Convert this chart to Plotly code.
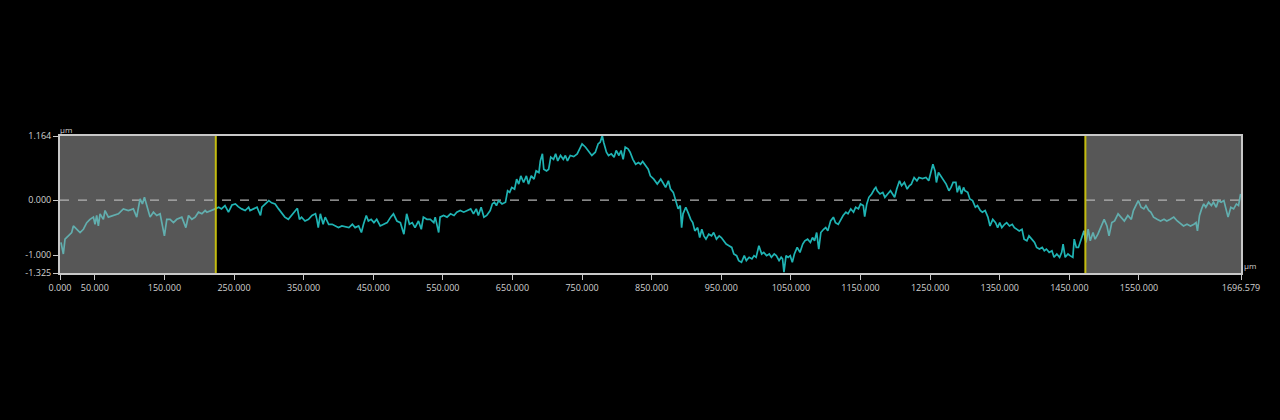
import plotly.graph_objects as go
import numpy as np

# Profile data (x in µm, height in µm)
x_um = [1.4, 4.8, 7.2, 12, 16.8, 19.2, 24, 28.8, 33.6, 38.4, 43.1, 48, 50.3, 52.7, 55.1, 57.5, 62.3, 64.7, 69.5, 76.7,
        83.9, 91, 98.2, 105.4, 110.2, 115, 118.4, 121.3, 124.6, 129.4, 134.2, 139, 143.8, 147.2, 150, 153.4, 158.2, 163,
        167.8, 175, 180.8, 184.6, 189.4, 194.2, 198.9, 203.8, 208.5,
        211, 218, 223, 228, 232, 237, 242, 247, 252, 256, 261, 266, 271, 273, 278, 283, 288, 290, 295, 300, 304, 309,
        314, 319, 323, 328, 333, 338, 341, 344, 347, 352, 357, 362, 367, 369, 371, 374, 378, 381, 386, 391, 395, 400,
        405, 410,
        415, 420, 424, 429, 433, 436, 440, 443, 447, 451, 455, 460, 465, 470, 475, 479, 484, 489, 494, 498, 502, 506,
        510, 515, 519, 522, 527, 532, 537, 539, 544, 546, 551, 556, 561, 566, 570, 575, 580, 585, 590, 594, 598, 601,
        605, 609, 613, 618, 621, 624, 627, 630, 635, 640, 643, 646, 649, 653, 656, 659, 662, 666, 670, 673, 677, 681,
        684, 688, 690, 693, 695, 699, 702, 705, 709, 712, 715, 719, 723, 726, 729, 733, 738, 743, 747, 750, 755, 760,
        764, 769, 773, 776, 779, 781, 785, 788, 792, 796, 799, 803, 806, 809, 812, 816, 819, 823, 827, 831, 834, 837,
        841, 845, 848, 853, 858, 863, 866, 870, 874, 877, 881, 884, 888, 891, 893, 895, 899, 903, 906, 909, 912, 916,
        919, 922, 925, 928, 932, 936, 939, 943, 947, 950, 954, 957, 961, 965, 968, 972, 975, 979, 983, 986, 990, 994,
        997, 1000, 1004, 1008, 1011, 1015, 1019, 1022, 1026, 1029, 1033, 1036, 1038, 1040, 1043, 1046, 1049, 1052,
        1055, 1059, 1063, 1067, 1070, 1074, 1078, 1081, 1084, 1087, 1090, 1093, 1097, 1100, 1103, 1107, 1111, 1114,
        1118, 1122, 1125, 1129, 1132, 1136, 1140, 1143, 1147, 1150, 1154, 1156, 1159, 1162, 1166, 1170, 1172, 1174,
        1178, 1182, 1185, 1189, 1193, 1196, 1199, 1202, 1206, 1209, 1213, 1217, 1220, 1223, 1227, 1231, 1234, 1239,
        1244, 1248, 1251, 1254, 1257, 1259, 1262, 1265, 1269, 1273, 1277, 1280, 1283, 1287, 1289, 1292, 1295, 1298,
        1300, 1304, 1307, 1311, 1315, 1318, 1322, 1325, 1329, 1333, 1336, 1340, 1344, 1347, 1350, 1353, 1357, 1360,
        1364, 1368, 1371, 1374, 1378, 1382, 1385, 1389, 1392, 1396, 1400, 1403, 1407, 1411, 1414, 1417, 1421, 1425,
        1428, 1432, 1436, 1439, 1441, 1444, 1448, 1451, 1455, 1457, 1460, 1463, 1467, 1471, 1474, 1477, 1480, 1484,
        1487, 1491, 1495, 1500, 1504, 1507, 1511, 1515, 1520, 1524, 1529, 1534, 1539, 1542, 1546, 1549, 1553, 1557,
        1560, 1564, 1567, 1571, 1576, 1581, 1586, 1590, 1595, 1600, 1605, 1610, 1614, 1619, 1624, 1629, 1632, 1634,
        1637, 1640, 1643, 1646, 1650, 1654, 1657, 1661, 1664, 1668, 1672, 1675, 1678, 1682, 1686, 1690, 1693, 1696]

z_um = [-0.77, -0.98, -0.71, -0.65, -0.59, -0.47, -0.53, -0.59, -0.53, -0.41, -0.35, -0.31, -0.44, -0.28, -0.47, -0.25,
        -0.35, -0.19, -0.31, -0.28, -0.25, -0.16, -0.19, -0.16, -0.31, 0.02, -0.07, 0.05, -0.10, -0.31, -0.22, -0.28,
        -0.25, -0.44, -0.65, -0.35, -0.35, -0.41, -0.35, -0.31, -0.50, -0.28, -0.35, -0.31, -0.22, -0.25, -0.19,
        -0.22, -0.19, -0.16, -0.13, -0.16, -0.10, -0.22, -0.09, -0.07, -0.12, -0.16, -0.19, -0.13, -0.19, -0.16, -0.13,
        -0.28, -0.13, -0.07, -0.01, -0.05, -0.07, -0.16, -0.25, -0.31, -0.35, -0.28, -0.19, -0.15, -0.35, -0.31, -0.38,
        -0.35, -0.28, -0.25, -0.35, -0.50, -0.25, -0.44, -0.31, -0.44, -0.44, -0.47, -0.50, -0.47, -0.48,
        -0.50, -0.44, -0.50, -0.47, -0.59, -0.44, -0.28, -0.38, -0.35, -0.41, -0.35, -0.47, -0.44, -0.41, -0.31, -0.25,
        -0.38, -0.41, -0.62, -0.25, -0.44, -0.41, -0.50, -0.38, -0.53, -0.31, -0.35, -0.35, -0.41, -0.31, -0.59, -0.31,
        -0.28, -0.31, -0.25, -0.28, -0.22, -0.19, -0.22, -0.19, -0.16, -0.25, -0.16, -0.28, -0.13, -0.31, -0.28, -0.19,
        -0.07, -0.04, -0.10, -0.01, -0.07, -0.04, 0.17, 0.14, 0.23, 0.20, 0.38, 0.29, 0.44, 0.32, 0.44, 0.29, 0.44, 0.38,
        0.53, 0.50, 0.71, 0.84, 0.56, 0.53, 0.56, 0.78, 0.74, 0.84, 0.71, 0.81, 0.74, 0.81, 0.71, 0.81, 0.79, 0.84, 0.93,
        1.02, 0.96, 0.87, 0.81, 0.87, 1.02, 1.05, 1.17, 1.05, 0.87, 0.81, 0.84, 0.78, 0.90, 0.81, 0.90, 0.74, 0.96, 0.93,
        0.87, 0.74, 0.65, 0.68, 0.65, 0.70, 0.62, 0.56, 0.44, 0.38, 0.29, 0.38, 0.32, 0.23, 0.35, 0.20, 0.14, -0.01,
        -0.16, -0.10, -0.50, -0.25, -0.13, -0.25, -0.35, -0.41, -0.56, -0.50, -0.68, -0.53, -0.65, -0.71, -0.62, -0.65,
        -0.59, -0.71, -0.65, -0.68, -0.74, -0.80, -0.83, -0.86, -0.98, -1.01, -1.10, -1.13, -1.01, -1.10, -1.04, -1.07,
        -1.01, -1.04, -0.83, -0.98, -0.95, -1.01, -0.98, -1.04, -0.98, -1.01, -1.10, -1.04, -1.07, -1.31, -1.01, -1.04,
        -1.01, -1.13, -0.98, -0.86, -0.95, -0.80, -0.74, -0.71, -0.77, -0.68, -0.74, -0.59, -0.89, -0.59, -0.53, -0.50,
        -0.56, -0.38, -0.31, -0.41, -0.44, -0.35, -0.28, -0.22, -0.25, -0.16, -0.22, -0.13, -0.16, -0.07, -0.10, -0.30,
        -0.07, 0.05, 0.11, 0.20, 0.23, 0.17, 0.11, 0.14, 0.05, 0.11, 0.17, 0.11, 0.05, 0.20, 0.35, 0.26, 0.32, 0.20,
        0.26, 0.29, 0.41, 0.35, 0.41, 0.39, 0.41, 0.35, 0.53, 0.65, 0.53, 0.32, 0.50, 0.44, 0.35, 0.29, 0.17, 0.23, 0.32,
        0.32, 0.14, 0.26, 0.11, 0.23, 0.17, 0.14, 0.02, -0.01, -0.13, -0.10, -0.19, -0.22, -0.19, -0.31, -0.47, -0.35,
        -0.41, -0.50, -0.41, -0.50, -0.44, -0.41, -0.47, -0.44, -0.50, -0.53, -0.56, -0.53, -0.71, -0.74, -0.65, -0.71,
        -0.77, -0.86, -0.89, -0.86, -0.92, -0.89, -0.95, -0.92, -1.04, -0.98, -1.04, -0.95, -0.80, -1.04, -0.98, -1.01,
        -1.04, -0.71, -0.86, -0.86, -0.71, -0.56, -0.77, -0.53, -0.74, -0.59, -0.71, -0.62, -0.50, -0.35, -0.47, -0.65,
        -0.41, -0.38, -0.25, -0.31, -0.38, -0.28, -0.35, -0.19, -0.10, -0.01, -0.13, -0.16, -0.10, -0.19, -0.22, -0.31,
        -0.35, -0.38, -0.35, -0.38, -0.35, -0.31, -0.38, -0.44, -0.47, -0.44, -0.47, -0.44, -0.41, -0.56, -0.28, -0.16,
        -0.07, -0.13, -0.04, -0.10, -0.04, -0.13, -0.01, -0.04, -0.01, -0.16, -0.31, -0.13, -0.16, -0.07, -0.10, 0.11]

x_min, x_max = 0.0, 1696.579
z_min, z_max = -1.325, 1.164
cursor_left, cursor_right = 223.8, 1473.0

x_tick_vals = [0, 50, 150, 250, 350, 450, 550, 650, 750, 850, 950, 1050, 1150, 1250, 1350, 1450, 1550, 1696.579]
x_tick_text = ["0.000", "50.000", "150.000", "250.000", "350.000", "450.000", "550.000", "650.000", "750.000",
               "850.000", "950.000", "1050.000", "1150.000", "1250.000", "1350.000", "1450.000", "1550.000",
               "1696.579"]
y_tick_vals = [1.164, 0.0, -1.0, -1.325]
y_tick_text = ["1.164", "0.000", "-1.000", "-1.325"]

xa = np.array(x_um, dtype=float)
za = np.array(z_um, dtype=float)

main_color = "#1fb4b4"
muted_color = "#62aeae"

fig = go.Figure()

# shaded (excluded) areas
for x0, x1 in [(x_min, cursor_left), (cursor_right, x_max)]:
    fig.add_shape(type="rect", xref="x", yref="y", x0=x0, x1=x1, y0=z_min, y1=z_max,
                  fillcolor="#575757", line=dict(width=0), layer="below")

# zero reference line
fig.add_shape(type="line", xref="x", yref="y", x0=x_min, x1=x_max, y0=0, y1=0,
              line=dict(color="#b4b4b4", width=1.2, dash="dash"), layer="below")

# segments: left shaded, center, right shaded
left = xa <= cursor_left + 3
mid = (xa >= cursor_left - 3) & (xa <= cursor_right + 3)
right = xa >= cursor_right - 3
for mask, col in [(left, muted_color), (mid, main_color), (right, muted_color)]:
    fig.add_trace(go.Scatter(x=xa[mask], y=za[mask], mode="lines",
                             line=dict(color=col, width=1.7), hoverinfo="skip", showlegend=False))

# cursor lines
for cx in [cursor_left, cursor_right]:
    fig.add_shape(type="line", xref="x", yref="y", x0=cx, x1=cx, y0=z_min, y1=z_max,
                  line=dict(color="#c4bc10", width=2))

font_family = "Open Sans, DejaVu Sans, sans-serif"
fig.update_layout(
    width=1280, height=420,
    paper_bgcolor="black", plot_bgcolor="black",
    margin=dict(l=60, r=39, t=136, b=147),
    showlegend=False,
    font=dict(family=font_family, size=9, color="#d2d2d2"),
    xaxis=dict(range=[x_min, x_max], tickvals=x_tick_vals, ticktext=x_tick_text,
               showgrid=False, zeroline=False, showline=True, mirror=True,
               linecolor="#c8c8c8", linewidth=2, ticks="outside", ticklen=5,
               tickcolor="#c8c8c8", tickwidth=1, tickfont=dict(size=9, color="#d2d2d2")),
    yaxis=dict(range=[z_min, z_max], tickvals=y_tick_vals, ticktext=y_tick_text,
               showgrid=False, zeroline=False, showline=True, mirror=True,
               linecolor="#c8c8c8", linewidth=2, ticks="outside", ticklen=5,
               tickcolor="#c8c8c8", tickwidth=1, tickfont=dict(size=9, color="#d2d2d2")),
    annotations=[
        dict(text="µm", xref="paper", yref="paper", x=0.0, y=1.0, xanchor="left", yanchor="bottom",
             showarrow=False, font=dict(size=8, color="#d2d2d2"), yshift=-1, xshift=-2),
        dict(text="µm", xref="paper", yref="paper", x=1.0, y=0.0, xanchor="left", yanchor="bottom",
             showarrow=False, font=dict(size=8, color="#d2d2d2"), xshift=1),
    ],
)

fig.write_html(
    "out.html",
    config={"displayModeBar": False, "staticPlot": True},
    post_script="document.body.style.margin='0';document.body.style.background='black';"
                "document.body.style.overflow='hidden';",
)
